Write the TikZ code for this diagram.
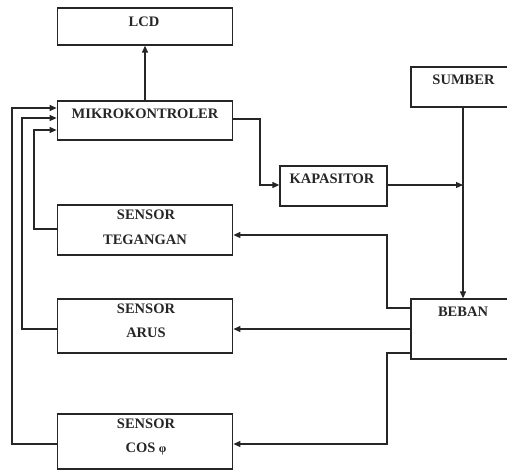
\documentclass[tikz,border=0pt]{standalone}
\usepackage{fontspec}
\setmainfont{Liberation Serif}
\usetikzlibrary{arrows.meta}
\begin{document}
\begin{tikzpicture}[x=1pt,y=-1pt,
  blok/.style={draw=black!85, line width=1.3pt, rectangle, inner sep=0pt},
  lbl/.style={font=\fontsize{14.5}{16}\selectfont\bfseries, text=black!85, inner sep=0pt},
  conn/.style={draw=black!85, line width=1.2pt},
  arr/.style={conn, -{Triangle[length=7pt,width=6pt]}}]
\useasboundingbox (0,0) rectangle (507,471);
\clip (0,0) rectangle (507,471);
% boxes
\node[blok, minimum width=175.5pt, minimum height=37pt] (lcd) at (145,26.5) {};
\node[blok, minimum width=175.5pt, minimum height=39pt] (mk) at (145,120.5) {};
\node[blok, minimum width=107pt, minimum height=40pt] (kap) at (333.5,186) {};
\node[blok, minimum width=104pt, minimum height=40pt] (sum) at (463,87) {};
\node[blok, minimum width=104pt, minimum height=60pt] (beb) at (463,329) {};
\node[blok, minimum width=175.5pt, minimum height=50pt] (teg) at (145,230) {};
\node[blok, minimum width=175.5pt, minimum height=54pt] (aru) at (145,326) {};
\node[blok, minimum width=175.5pt, minimum height=55pt] (cos) at (145,441.5) {};
% labels
\node[lbl] (tlcd) at (144,21.5) {LCD};
\node[lbl] (tmk) at (145,113.5) {MIKROKONTROLER};
\node[lbl] (tkap) at (332,178.5) {KAPASITOR};
\node[lbl] (tsum) at (463.5,79.5) {SUMBER};
\node[lbl] (tbeb) at (463,311.5) {BEBAN};
\node[lbl] (tteg1) at (146,215) {SENSOR};
\node[lbl] (tteg2) at (145,239.5) {TEGANGAN};
\node[lbl] (taru1) at (146,309) {SENSOR};
\node[lbl] (taru2) at (146,333) {ARUS};
\node[lbl] (tcos1) at (146,423.5) {SENSOR};
\node[lbl] (tcos2) at (146,449) {COS {\fontsize{12}{14}\selectfont φ}};
% free end
\coordinate (join) at (463,185);
% connectors
\draw[arr] (mk.north -| lcd.south) -- (lcd.south);
\draw[arr] (mk.east |- 0,119) -- (260,119) -- (260,185) -- (kap.west |- 0,185);
\draw[arr] (kap.east |- join) -- (join);
\draw[arr] (sum.south) -- (beb.north);
\draw[arr] (beb.west |- 0,308) -- (387,308) -- (387,235) -- (teg.east |- 0,235);
\draw[arr] (beb.west |- 0,329) -- (aru.east |- 0,329);
\draw[arr] (beb.west |- 0,353) -- (387,353) -- (387,444) -- (cos.east |- 0,444);
\draw[arr] (teg.west |- 0,229) -- (34,229) -- (34,130) -- (mk.west |- 0,130);
\draw[arr] (aru.west |- 0,329) -- (22,329) -- (22,118) -- (mk.west |- 0,118);
\draw[arr] (cos.west |- 0,444) -- (12,444) -- (12,108) -- (mk.west |- 0,108);
\end{tikzpicture}
\end{document}
